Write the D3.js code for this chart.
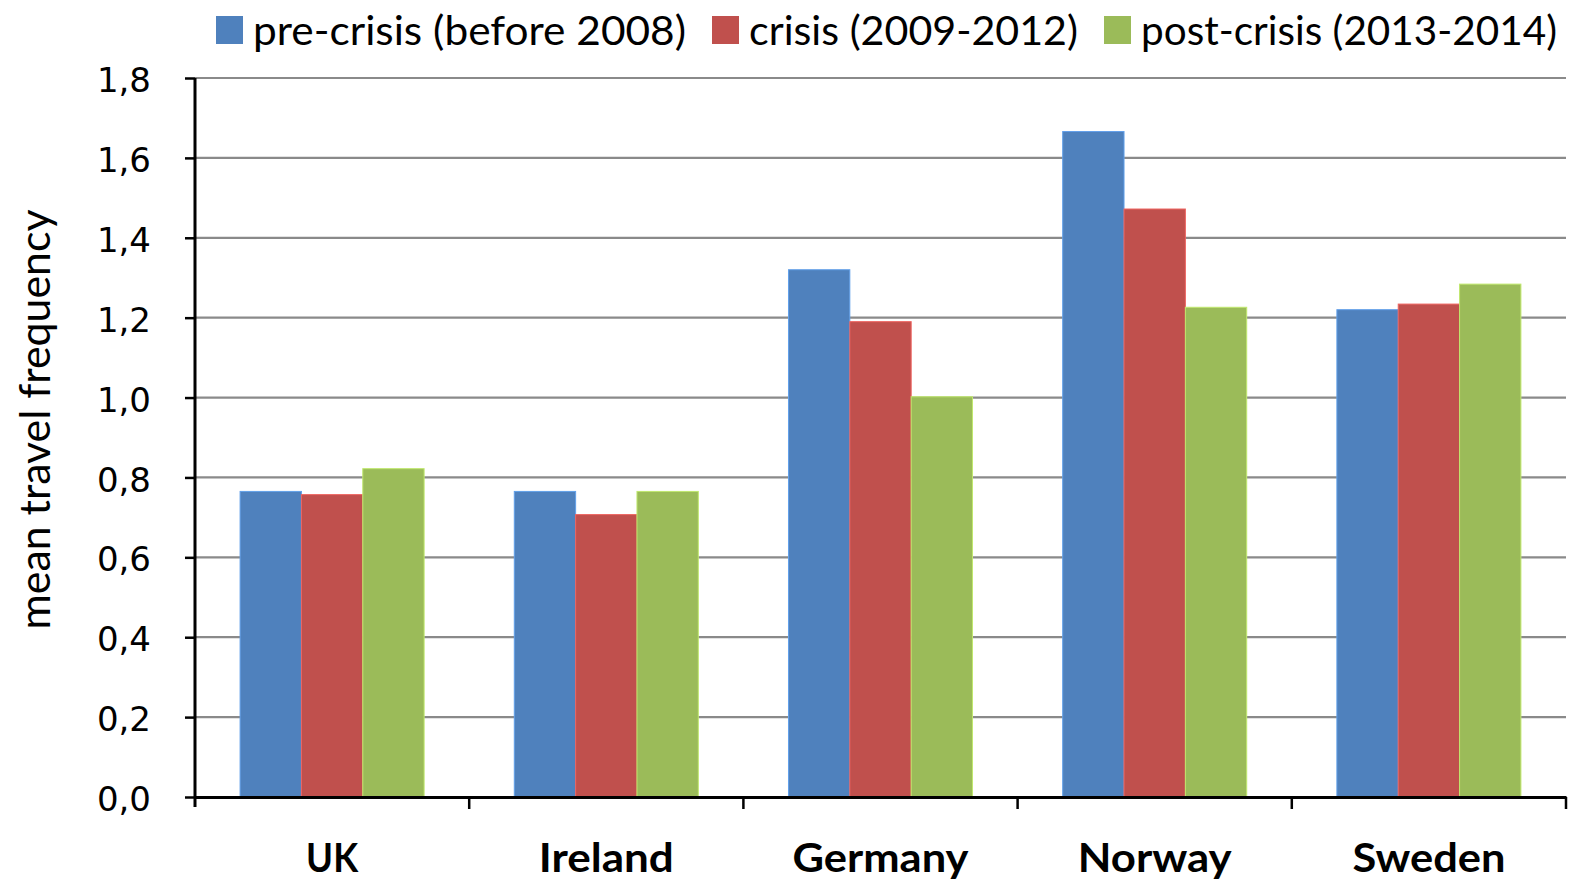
<!DOCTYPE html>
<html>
<head>
<meta charset="utf-8">
<script src="https://cdn.jsdelivr.net/npm/d3@7"></script>
<style>
    body { margin: 0; background: #fff; }
    svg { display: block; }
</style>
</head>
<body>
<div id="chart"></div>
<script>
const countries = ["UK", "Ireland", "Germany", "Norway", "Sweden"];
const seriesNames = ["pre-crisis (before 2008)", "crisis (2009-2012)", "post-crisis (2013-2014)"];
const preCrisis = [0.765, 0.765, 1.32, 1.666, 1.22];
const crisis = [0.757, 0.707, 1.19, 1.472, 1.234];
const postCrisis = [0.822, 0.765, 1.002, 1.226, 1.284];
const yTicks = [0, 0.2, 0.4, 0.6, 0.8, 1.0, 1.2, 1.4, 1.6, 1.8];
const colors = ["#4F81BD", "#C0504D", "#9BBB59"];

const seriesValues = [preCrisis, crisis, postCrisis];

const svgWidth = 1570;
const svgHeight = 881;
const margin = { top: 78, right: 4, bottom: 84, left: 195 };
const width = svgWidth - margin.left - margin.right;
const height = svgHeight - margin.top - margin.bottom;

const legendTextWidth = [433, 329, 416];
const countryTextWidth = [52, 135, 176, 154, 153];

const svg = d3.select("#chart")
    .append("svg")
    .attr("width", svgWidth)
    .attr("height", svgHeight);

const g = svg.append("g")
    .attr("transform", "translate(" + margin.left + "," + margin.top + ")");

const xScale = d3.scaleBand()
    .domain(countries)
    .range([0, width])
    .padding(0);

const xInner = d3.scaleBand()
    .domain(d3.range(seriesNames.length))
    .range([0, xScale.bandwidth()])
    .paddingInner(0)
    .paddingOuter(0.735);

const yScale = d3.scaleLinear()
    .domain([0, 1.8])
    .range([height, 0]);

const commaFormat = d3.formatLocale({ decimal: ",", thousands: ".", grouping: [3], currency: ["", ""] }).format(".1f");

// gridlines
g.selectAll("line.grid")
    .data(yTicks.filter(d => d > 0))
    .enter().append("line")
    .attr("class", "grid")
    .attr("x1", 0)
    .attr("x2", width)
    .attr("y1", d => yScale(d))
    .attr("y2", d => yScale(d))
    .attr("stroke", "#8a8a8a")
    .attr("stroke-width", 2.2);

// bars
const groups = g.selectAll("g.country")
    .data(countries)
    .enter().append("g")
    .attr("class", "country")
    .attr("transform", d => "translate(" + xScale(d) + ",0)");

groups.selectAll("rect")
    .data((c, ci) => seriesValues.map((vals, si) => ({ si: si, v: vals[ci] })))
    .enter().append("rect")
    .attr("x", d => xInner(d.si))
    .attr("y", d => yScale(d.v))
    .attr("width", xInner.bandwidth())
    .attr("height", d => height - yScale(d.v))
    .attr("fill", d => colors[d.si])
    .attr("stroke", d => d3.color(colors[d.si]).brighter(0.6))
    .attr("stroke-width", 1);

// y axis
const yAxis = d3.axisLeft(yScale)
    .tickValues(yTicks)
    .tickFormat(commaFormat)
    .tickSize(10)
    .tickPadding(34);

const yAxisG = g.append("g")
    .call(yAxis);
yAxisG.select(".domain").attr("stroke", "#000").attr("stroke-width", 3).attr("d", "M0," + (height + 10) + "V0");
yAxisG.selectAll(".tick line").attr("stroke", "#000").attr("stroke-width", 2.5);
yAxisG.selectAll(".tick text")
    .attr("font-family", "'DejaVu Sans', Verdana, sans-serif")
    .attr("font-size", 34)
    .attr("dy", "0.4em")
    .attr("fill", "#000");

// x axis
const xAxis = d3.axisBottom(xScale)
    .tickSize(0)
    .tickPadding(46);

const xAxisG = g.append("g")
    .attr("transform", "translate(0," + height + ")")
    .call(xAxis);
xAxisG.select(".domain").attr("stroke", "#000").attr("stroke-width", 3);
xAxisG.selectAll(".tick text")
    .attr("font-family", "Lato, 'Open Sans', sans-serif")
    .attr("font-weight", "bold")
    .attr("font-size", 41)
    .attr("fill", "#000")
    .attr("textLength", (d, i) => countryTextWidth[i])
    .attr("lengthAdjust", "spacingAndGlyphs");

// category separator ticks
g.selectAll("line.sep")
    .data(countries.slice(1).concat(["end"]))
    .enter().append("line")
    .attr("class", "sep")
    .attr("x1", d => d === "end" ? width : xScale(d))
    .attr("x2", d => d === "end" ? width : xScale(d))
    .attr("y1", height)
    .attr("y2", height + 12)
    .attr("stroke", "#000")
    .attr("stroke-width", 2.5);

// y axis title
svg.append("text")
    .attr("transform", "translate(50," + (margin.top + height / 2 - 18) + ") rotate(-90)")
    .attr("text-anchor", "middle")
    .attr("font-family", "Lato, 'Open Sans', sans-serif")
    .attr("font-size", 42)
    .attr("fill", "#000")
    .attr("textLength", 420)
    .attr("lengthAdjust", "spacingAndGlyphs")
    .text("mean travel frequency");

// legend
const legendX = [216, 712, 1104];
const legend = svg.selectAll("g.legend")
    .data(seriesNames)
    .enter().append("g")
    .attr("class", "legend")
    .attr("transform", (d, i) => "translate(" + legendX[i] + ",0)");

legend.append("rect")
    .attr("x", 0)
    .attr("y", 16)
    .attr("width", 27)
    .attr("height", 28)
    .attr("fill", (d, i) => colors[i]);

legend.append("text")
    .attr("x", 37)
    .attr("y", 45)
    .attr("font-family", "Lato, 'Open Sans', sans-serif")
    .attr("font-size", 40)
    .attr("fill", "#000")
    .attr("textLength", (d, i) => legendTextWidth[i])
    .attr("lengthAdjust", "spacingAndGlyphs")
    .text(d => d);
</script>
</body>
</html>
